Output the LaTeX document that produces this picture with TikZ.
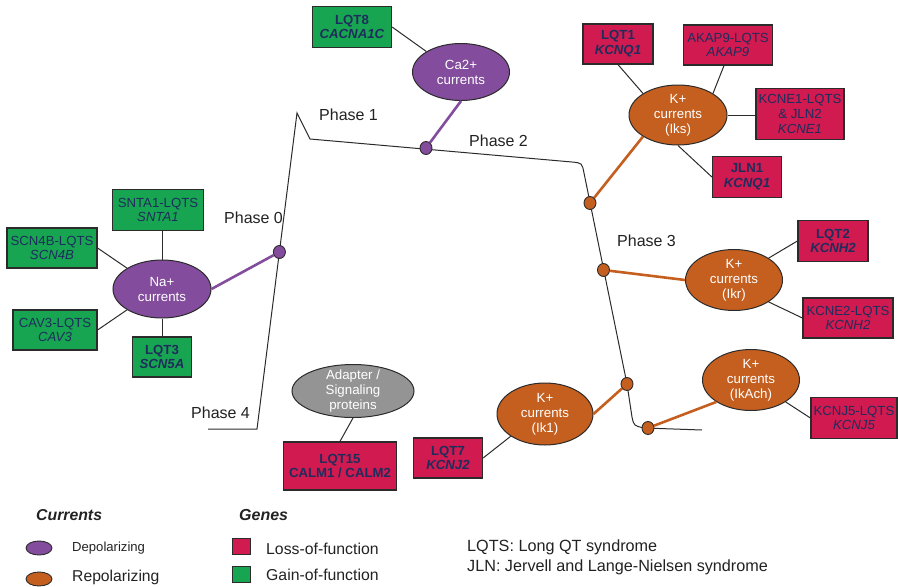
\documentclass[tikz,border=0pt]{standalone}
\usepackage{fontspec}
\setmainfont{Liberation Sans}
\usetikzlibrary{shapes.geometric}
\definecolor{gfill}{HTML}{17A552}
\definecolor{rfill}{HTML}{D01A50}
\definecolor{pfill}{HTML}{834C9C}
\definecolor{ofill}{HTML}{C45F20}
\definecolor{grfill}{HTML}{949494}
\definecolor{navy}{HTML}{1F2D5C}
\definecolor{edge}{HTML}{2B2B2B}
\definecolor{ptext}{HTML}{222222}
\tikzset{
  gbox/.style={draw=edge,line width=1.2pt,fill=gfill,inner sep=0pt,align=center,text=navy,font=\fontsize{13.2}{14.7}\selectfont},
  rbox/.style={draw=edge,line width=1.2pt,fill=rfill,inner sep=0pt,align=center,text=navy,font=\fontsize{13.2}{14.7}\selectfont},
  cur/.style={ellipse,draw=edge,line width=1pt,inner sep=0pt,
    label={[text=white,align=center,font=\fontsize{13.3}{15}\selectfont]center:#1}},
  pcur/.style={cur={#1},fill=pfill},
  ocur/.style={cur={#1},fill=ofill},
  gcur/.style={cur={#1},fill=grfill},
  pdot/.style={ellipse,draw=edge,line width=0.9pt,fill=pfill,minimum width=12pt,minimum height=13pt,inner sep=0pt},
  odot/.style={ellipse,draw=edge,line width=0.9pt,fill=ofill,minimum width=12pt,minimum height=13pt,inner sep=0pt},
  plink/.style={draw=pfill,line width=2.6pt},
  olink/.style={draw=ofill,line width=2.6pt},
  blink/.style={draw=edge,line width=1pt},
  phase/.style={anchor=west,inner sep=0pt,text=ptext,font=\fontsize{16}{18}\selectfont},
  legt/.style={anchor=west,inner sep=0pt,text=ptext},
}
\begin{document}
\begin{tikzpicture}[x=1pt,y=-1pt]
\useasboundingbox (0,0) rectangle (898,587);

% action potential
\coordinate (p4a) at (208,429);
\coordinate (p4b) at (257,429);
\coordinate (peak) at (297,113);
\coordinate (p1) at (310,139);
\coordinate (p2e) at (572,162);
\coordinate (p3a) at (584,173);
\coordinate (p3b) at (627,384);
\coordinate (p3c) at (632,417);
\coordinate (p4c) at (645,428);
\coordinate (p4d) at (702,430);
\draw[blink] (p4a) -- (p4b) -- (peak) -- (p1) -- (p2e)
  .. controls (582,163) .. (p3a) -- (p3b) -- (p3c)
  .. controls (634,426) .. (p4c) -- (p4d);

% phase labels
\node[phase] (ph0) at (224,218) {Phase 0};
\node[phase] (ph1) at (319,115) {Phase 1};
\node[phase] (ph2) at (469,141) {Phase 2};
\node[phase] (ph3) at (617,241) {Phase 3};
\node[phase] (ph4) at (191,413) {Phase 4};

% current ellipses
\node[pcur={Na+\\currents},minimum width=98pt,minimum height=58pt] (na) at (162,289) {};
\node[pcur={Ca2+\\currents},minimum width=97pt,minimum height=57pt] (ca) at (461,72) {};
\node[ocur={K+\\currents\\(Iks)},minimum width=98pt,minimum height=60pt] (iks) at (678,115) {};
\node[ocur={K+\\currents\\(Ikr)},minimum width=97pt,minimum height=61pt] (ikr) at (734,280) {};
\node[ocur={K+\\currents\\(Ik1)},minimum width=96pt,minimum height=62pt] (ik1) at (545,414) {};
\node[ocur={K+\\currents\\(IkAch)},minimum width=97pt,minimum height=61pt] (ikach) at (751,380) {};
\node[gcur={Adapter /\\Signaling\\proteins},minimum width=122pt,minimum height=53pt] (adapt) at (353,391) {};

% gene boxes
\node[gbox,minimum width=91pt,minimum height=41pt] (snta) at (158,210) {SNTA1-LQTS\\\textit{SNTA1}};
\node[gbox,minimum width=90pt,minimum height=40pt] (scnb) at (52,248) {SCN4B-LQTS\\\textit{SCN4B}};
\node[gbox,minimum width=84pt,minimum height=40pt] (cav) at (55,330) {CAV3-LQTS\\\textit{CAV3}};
\node[gbox,minimum width=59pt,minimum height=40pt] (lqt3) at (162,357) {\textbf{LQT3}\\\textbf{\textit{SCN5A}}};
\node[gbox,minimum width=79pt,minimum height=41pt] (lqt8) at (352,27) {\textbf{LQT8}\\\textbf{\textit{CACNA1C}}};
\node[rbox,minimum width=70pt,minimum height=40pt] (lqt1) at (618,44) {\textbf{LQT1}\\\textbf{\textit{KCNQ1}}};
\node[rbox,minimum width=89pt,minimum height=40pt] (akap) at (728,45) {AKAP9-LQTS\\\textit{AKAP9}};
\node[rbox,minimum width=88pt,minimum height=51pt] (kcne1) at (800,114) {KCNE1-LQTS\\\& JLN2\\\textit{KCNE1}};
\node[rbox,minimum width=69pt,minimum height=41pt] (jln1) at (747,177) {\textbf{JLN1}\\\textbf{\textit{KCNQ1}}};
\node[rbox,minimum width=70pt,minimum height=41pt] (lqt2) at (833,241) {\textbf{LQT2}\\\textbf{\textit{KCNH2}}};
\node[rbox,minimum width=90pt,minimum height=40pt] (kcne2) at (848,318) {KCNE2-LQTS\\\textit{KCNH2}};
\node[rbox,minimum width=86pt,minimum height=41pt] (kcnj5) at (854,418) {KCNJ5-LQTS\\\textit{KCNJ5}};
\node[rbox,minimum width=69pt,minimum height=40pt] (lqt7) at (448,458) {\textbf{LQT7}\\\textbf{\textit{KCNJ2}}};
\node[rbox,minimum width=113pt,minimum height=48pt] (lqt15) at (340,466) {\textbf{LQT15}\\\textbf{CALM1 / CALM2}};

% black connectors
\draw[blink] (na.north) -- (na.north |- snta.south);
\draw[blink] (na.north west) -- (scnb.east);
\draw[blink] (na.south west) -- (cav.east);
\draw[blink] (na.south) -- (na.south |- lqt3.north);
\draw[blink] (ca.north west) -- (lqt8.east);
\draw[blink] (iks.north west) -- (lqt1.south);
\draw[blink] (iks.north east) -- ([xshift=-4pt]akap.south);
\draw[blink] (iks.east) -- (iks.east -| kcne1.west);
\draw[blink] (iks.south) -- (jln1.west);
\draw[blink] (ikr.north east) -- (lqt2.west);
\draw[blink] (ikr.south east) -- (kcne2.west);
\draw[blink] (ikach.south east) -- (kcnj5.west);
\draw[blink] (ik1.south west) -- (lqt7.east);
\draw[blink] (adapt.south) -- (lqt15.north);

% dots on the action potential
\node[pdot] (d0) at (279.4,252) {};
\node[pdot] (dca) at (426,148) {};
\node[odot] (diks) at (590,203) {};
\node[odot] (dikr) at (603.5,270) {};
\node[odot] (dik1) at (627,384) {};
\node[odot] (dach) at (648,428) {};

% coloured links
\draw[plink] (d0) -- (na.east);
\draw[plink] (dca) -- (ca.south);
\draw[olink] (diks) -- (iks.south west);
\draw[olink] (dikr) -- (ikr.west);
\draw[olink] (dik1) -- (ik1.east);
\draw[olink] (dach) -- (ikach.south west);

% legend
\node[legt,font=\fontsize{15.8}{18}\selectfont\bfseries\itshape] (lcur) at (36,515) {Currents};
\node[legt,font=\fontsize{16}{18}\selectfont\bfseries\itshape] (lgen) at (239,515) {Genes};
\node[pdot,minimum width=26pt,minimum height=14pt] (ldep) at (39,548) {};
\node[odot,minimum width=26pt,minimum height=14pt] (lrep) at (39,579) {};
\node[legt,font=\fontsize{13.1}{15}\selectfont] (tdep) at (72,548) {Depolarizing};
\node[legt,font=\fontsize{15.7}{18}\selectfont] (trep) at (72,577) {Repolarizing};
\node[draw=edge,line width=1.2pt,fill=rfill,minimum width=18pt,minimum height=16pt,inner sep=0pt] (lloss) at (241.5,546.5) {};
\node[draw=edge,line width=1.2pt,fill=gfill,minimum width=18pt,minimum height=16pt,inner sep=0pt] (lgain) at (241.5,574.5) {};
\node[legt,font=\fontsize{15.8}{18}\selectfont] (tloss) at (266,549) {Loss-of-function};
\node[legt,font=\fontsize{15.8}{18}\selectfont] (tgain) at (266,575) {Gain-of-function};
\node[legt,font=\fontsize{16.2}{18}\selectfont] (tlqts) at (467,547) {LQTS: Long QT syndrome};
\node[legt,font=\fontsize{16.2}{18}\selectfont] (tjln) at (467,567) {JLN: Jervell and Lange-Nielsen syndrome};
\end{tikzpicture}
\end{document}
